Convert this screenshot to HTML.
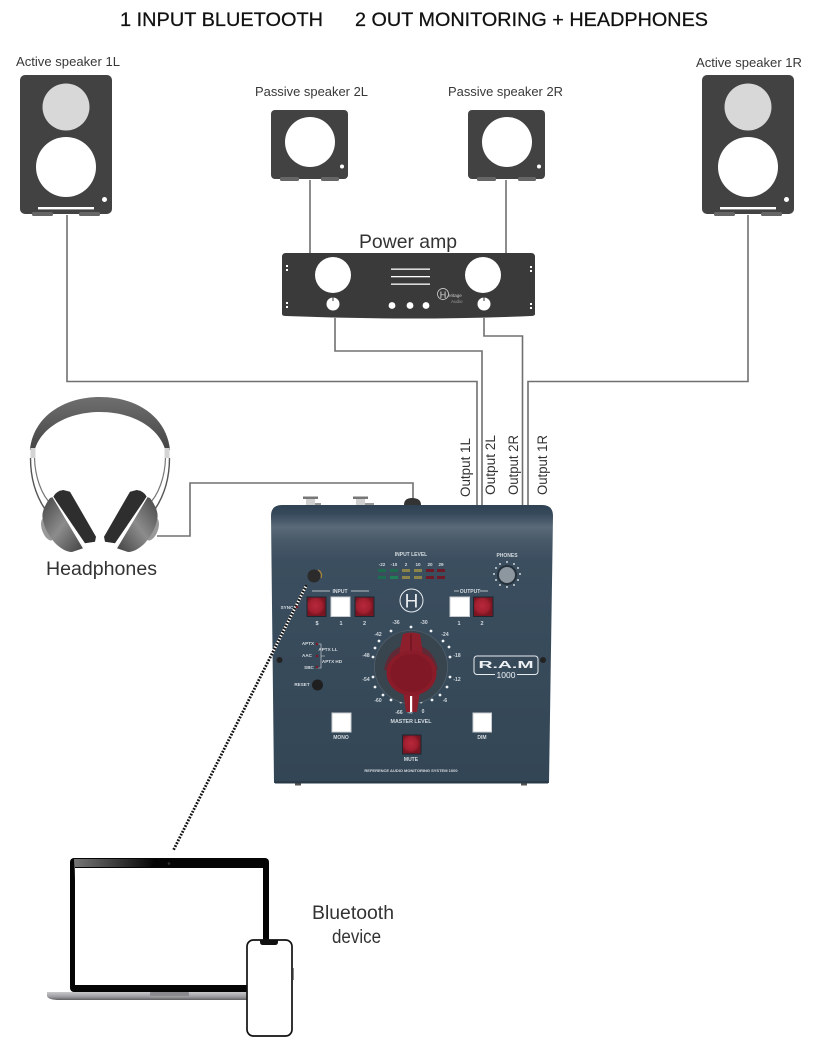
<!DOCTYPE html>
<html><head><meta charset="utf-8"><style>
html,body{margin:0;padding:0;background:#fff;width:833px;height:1055px;overflow:hidden}
svg{display:block}
text{font-family:"Liberation Sans",Arial,sans-serif}
.lab{fill:#383838;font-size:13px}
.t{fill:#d5dbe0;font-size:4.6px;font-weight:bold;text-anchor:middle}
</style></head><body>
<svg width="833" height="1055" viewBox="0 0 833 1055" xmlns="http://www.w3.org/2000/svg">
<defs>
<linearGradient id="body" x1="0" y1="0" x2="0" y2="1">
<stop offset="0" stop-color="#2f4254"/><stop offset=".03" stop-color="#36495a"/><stop offset=".08" stop-color="#5a6a78"/><stop offset=".125" stop-color="#495a69"/><stop offset=".2" stop-color="#3b4e5f"/><stop offset="1" stop-color="#334655"/>
</linearGradient>
<radialGradient id="red" cx=".45" cy=".45"><stop offset="0" stop-color="#b8283c"/><stop offset=".7" stop-color="#a21f30"/><stop offset="1" stop-color="#7a1522"/></radialGradient>
<linearGradient id="band" x1="0" y1="0" x2="0" y2="1"><stop offset="0" stop-color="#6f6f6f"/><stop offset="1" stop-color="#454545"/></linearGradient>
<linearGradient id="cup" x1="0" y1="0" x2="1" y2="1"><stop offset="0" stop-color="#444"/><stop offset=".5" stop-color="#8c8c8c"/><stop offset="1" stop-color="#3f3f3f"/></linearGradient>
<linearGradient id="base" x1="0" y1="0" x2="0" y2="1"><stop offset="0" stop-color="#c9c9cc"/><stop offset=".6" stop-color="#9c9ca0"/><stop offset="1" stop-color="#5f5f62"/></linearGradient>
<linearGradient id="glare" x1="0" y1="0" x2="1" y2="0"><stop offset="0" stop-color="#777"/><stop offset="1" stop-color="#000"/></linearGradient>
<g id="hp">
<path d="M30.500 458C30.500 478 36 497 47 512" fill="none" stroke="#555" stroke-width="1.400"/>
<path d="M34.500 458C35 476 41 495 52 505" fill="none" stroke="#777" stroke-width="1.200"/>
<ellipse cx="48" cy="529" rx="6" ry="12" fill="#999" transform="rotate(-20 48 529)"/>
<path d="M53 497L50 498C44 506 41 514 43 520C45 530 50 537 55 543C60 548 66 552 72 552L84 548Z" fill="url(#cup)"/>
<path d="M63.300 490L70 491.700L96 536.700L95 541.700L85 543.300L53.300 496.700Q56 491 63.300 490Z" fill="#2e2e2e"/>
<path d="M53 497L84 549" fill="none" stroke="#fff" stroke-width="1.200"/>
</g>
</defs>

<text x="120" y="26" font-size="19" fill="#111" stroke="#111" stroke-width=".25" textLength="203" lengthAdjust="spacingAndGlyphs">1 INPUT BLUETOOTH</text>
<text x="355" y="26" font-size="19" fill="#111" stroke="#111" stroke-width=".25" textLength="353" lengthAdjust="spacingAndGlyphs">2 OUT MONITORING + HEADPHONES</text>

<!-- connectors -->
<g fill="none" stroke="#707070" stroke-width="1.600">
<path d="M67 215V381.500H477V506"/>
<path d="M335 318V351H482V506"/>
<path d="M484 318V336H522.500V506"/>
<path d="M748 215V381.500H528V506"/>
<path d="M310 180V255M506 180V255"/>
<path d="M157 536H190V483H413V500"/>
</g>

<!-- active speakers -->
<g fill="#424242">
<rect x="20" y="75" width="92" height="139" rx="5"/>
<rect x="32" y="212" width="21" height="4" rx="1.500" fill="#666"/><rect x="79" y="212" width="21" height="4" rx="1.500" fill="#666"/>
<circle cx="66" cy="107" r="23.500" fill="#d8d8d8"/><circle cx="66" cy="167" r="30" fill="#fff"/>
<circle cx="104.500" cy="199.500" r="2.500" fill="#fff"/><rect x="38" y="207" width="56" height="2.400" fill="#fff"/>
</g>
<g transform="translate(682 0)" fill="#424242">
<rect x="20" y="75" width="92" height="139" rx="5"/>
<rect x="32" y="212" width="21" height="4" rx="1.500" fill="#666"/><rect x="79" y="212" width="21" height="4" rx="1.500" fill="#666"/>
<circle cx="66" cy="107" r="23.500" fill="#d8d8d8"/><circle cx="66" cy="167" r="30" fill="#fff"/>
<circle cx="104.500" cy="199.500" r="2.500" fill="#fff"/><rect x="38" y="207" width="56" height="2.400" fill="#fff"/>
</g>
<!-- passive speakers -->
<g fill="#424242">
<rect x="271" y="110" width="77" height="69" rx="4"/>
<rect x="280" y="177" width="19" height="4" rx="1.500" fill="#666"/><rect x="321" y="177" width="18" height="4" rx="1.500" fill="#666"/>
<circle cx="310" cy="142" r="25" fill="#fff"/><circle cx="342" cy="166.500" r="2" fill="#fff"/>
</g>
<g transform="translate(197 0)" fill="#424242">
<rect x="271" y="110" width="77" height="69" rx="4"/>
<rect x="280" y="177" width="19" height="4" rx="1.500" fill="#666"/><rect x="321" y="177" width="18" height="4" rx="1.500" fill="#666"/>
<circle cx="310" cy="142" r="25" fill="#fff"/><circle cx="342" cy="166.500" r="2" fill="#fff"/>
</g>
<text class="lab" x="16" y="66" textLength="104" lengthAdjust="spacingAndGlyphs">Active speaker 1L</text>
<text class="lab" x="696" y="67" textLength="106" lengthAdjust="spacingAndGlyphs">Active speaker 1R</text>
<text class="lab" x="255" y="96" textLength="113" lengthAdjust="spacingAndGlyphs">Passive speaker 2L</text>
<text class="lab" x="448" y="96" textLength="115" lengthAdjust="spacingAndGlyphs">Passive speaker 2R</text>

<!-- amp -->
<text x="359" y="248" font-size="19.400" fill="#333" textLength="98" lengthAdjust="spacingAndGlyphs">Power amp</text>
<path d="M286 253H531Q535 253 535 257V314Q535 316 531 316Q410 321 286 316Q282 316 282 314V257Q282 253 286 253Z" fill="#3a3a3a"/>
<g fill="#fff">
<circle cx="333" cy="275" r="18"/><circle cx="483" cy="275" r="18"/>
<circle cx="333" cy="304" r="6.500"/><circle cx="484" cy="304" r="6.500"/>
<rect x="391" y="268.500" width="39" height="1.300"/><rect x="391" y="276" width="39" height="1.300"/><rect x="391" y="283.500" width="39" height="1.300"/>
<circle cx="392" cy="305.500" r="3.400"/><circle cx="410" cy="305.500" r="3.400"/><circle cx="426" cy="305.500" r="3.400"/>
<rect x="286" y="265" width="2" height="2"/><rect x="286" y="269" width="2" height="2"/><rect x="286" y="302" width="2" height="2"/><rect x="286" y="306" width="2" height="2"/>
<rect x="530" y="266" width="2" height="2"/><rect x="530" y="270" width="2" height="2"/><rect x="530" y="303" width="2" height="2"/><rect x="530" y="307" width="2" height="2"/>
</g>
<path d="M333 297.500V301M484 297.500V301" stroke="#3a3a3a" stroke-width="1"/>
<circle cx="443" cy="294" r="5.500" fill="none" stroke="#ddd" stroke-width=".7"/>
<text x="443" y="298" font-size="9" fill="#ddd" text-anchor="middle">H</text>
<text x="448" y="297" font-size="4.500" fill="#ccc">eritage</text><text x="451" y="303" font-size="4.500" fill="#999">Audio</text>

<!-- output labels -->
<g font-size="13.500" fill="#333">
<text transform="translate(470 497) rotate(-90)" textLength="59" lengthAdjust="spacingAndGlyphs">Output 1L</text>
<text transform="translate(495 495) rotate(-90)" textLength="60" lengthAdjust="spacingAndGlyphs">Output 2L</text>
<text transform="translate(518 495) rotate(-90)" textLength="60" lengthAdjust="spacingAndGlyphs">Output 2R</text>
<text transform="translate(547 495) rotate(-90)" textLength="60" lengthAdjust="spacingAndGlyphs">Output 1R</text>
</g>

<!-- headphones -->
<path d="M30 450C33 418 62 397 100 397C138 397 167 418 170 450L165 449C158 427 132 412 100 412C68 412 42 427 35 449Z" fill="url(#band)"/>
<rect x="30.500" y="448" width="5" height="10" fill="#d4d4d4"/><rect x="164.500" y="448" width="5" height="10" fill="#d4d4d4"/>
<use href="#hp"/>
<use href="#hp" transform="translate(200 0) scale(-1 1)"/>
<text x="46" y="575" font-size="19" fill="#333" textLength="111" lengthAdjust="spacingAndGlyphs">Headphones</text>

<!-- top jacks -->
<rect x="306" y="498" width="9" height="8" fill="#d0d0d0"/><rect x="303" y="496.500" width="15" height="2.500" fill="#777"/><rect x="315" y="503" width="6" height="2" fill="#999"/>
<rect x="356" y="498" width="9" height="8" fill="#d0d0d0"/><rect x="353" y="496.500" width="15" height="2.500" fill="#777"/><rect x="365" y="503" width="9" height="2" fill="#999"/>
<path d="M404 505Q404 498 412 498Q421 498 421 505Z" fill="#333"/>

<!-- device -->
<path d="M271 516Q271 505 282 505H542Q553 505 553 516L549 783H274Z" fill="url(#body)"/>
<rect x="275" y="781" width="273" height="2.500" fill="#2a3a48"/>
<rect x="295" y="783.500" width="6" height="2" fill="#555"/><rect x="521" y="783.500" width="6" height="2" fill="#555"/>

<!-- input level -->
<text class="t" x="411" y="556" style="font-size:5px">INPUT LEVEL</text>
<text class="t" x="382" y="566">-22</text><text class="t" x="394" y="566">-10</text><text class="t" x="406" y="566">2</text><text class="t" x="418" y="566">10</text><text class="t" x="430" y="566">20</text><text class="t" x="441" y="566">29</text>
<g>
<rect x="378" y="569" width="8" height="3" fill="#1f6b50"/><rect x="390" y="569" width="8" height="3" fill="#1f6b50"/><rect x="402" y="569" width="8" height="3" fill="#8c8448"/><rect x="414" y="569" width="8" height="3" fill="#8c8448"/><rect x="426" y="569" width="8" height="3" fill="#6e1a28"/><rect x="437" y="569" width="8" height="3" fill="#6e1a28"/>
<rect x="378" y="576" width="8" height="3" fill="#1f6b50"/><rect x="390" y="576" width="8" height="3" fill="#1f8058"/><rect x="402" y="576" width="8" height="3" fill="#8c8448"/><rect x="414" y="576" width="8" height="3" fill="#8c8448"/><rect x="426" y="576" width="8" height="3" fill="#6e1a28"/><rect x="437" y="576" width="8" height="3" fill="#6e1a28"/>
</g>

<!-- phones -->
<text class="t" x="507" y="557" style="font-size:5px">PHONES</text>
<g fill="#fff">
<circle cx="507" cy="562" r=".9"/><circle cx="500" cy="564" r=".9"/><circle cx="514" cy="564" r=".9"/><circle cx="496" cy="568" r=".9"/><circle cx="518" cy="568" r=".9"/><circle cx="494" cy="574" r=".9"/><circle cx="520" cy="574" r=".9"/><circle cx="496" cy="580" r=".9"/><circle cx="518" cy="580" r=".9"/><circle cx="500" cy="585" r=".9"/><circle cx="514" cy="585" r=".9"/><circle cx="507" cy="587" r=".9"/>
</g>
<circle cx="507" cy="575" r="10" fill="#25313b"/><circle cx="507" cy="575" r="8" fill="#8d97a0"/>

<!-- jack + cable -->
<path d="M318 570A6 6 0 0 1 321 578" fill="none" stroke="#a8843a" stroke-width="1.200"/>
<circle cx="314" cy="576" r="6.500" fill="#2b2b2b"/>
<path d="M306.500 585L173 851" fill="none" stroke="#fff" stroke-width="2.800"/>
<path d="M306.500 585L173 851" fill="none" stroke="#111" stroke-width="2.800" stroke-dasharray="1.800 1.400"/>

<!-- input / output -->
<text class="t" x="340" y="593" style="font-size:5px">INPUT</text>
<path d="M312 591H330M351 591H369M454 591H459M480 591H488" stroke="#dfe4e8" stroke-width=".7"/>
<text class="t" x="470" y="593" style="font-size:5px">OUTPUT</text>
<g stroke="#1d2730" stroke-width="1">
<rect x="307" y="597" width="19" height="19.500" fill="url(#red)"/><rect x="331" y="597" width="19" height="19.500" fill="#fff" stroke="#c8ccd0"/><rect x="355" y="597" width="19" height="19.500" fill="url(#red)"/>
<rect x="450" y="597" width="19.500" height="19.500" fill="#fff" stroke="#c8ccd0"/><rect x="473.500" y="597" width="19.500" height="19.500" fill="url(#red)"/>
<rect x="332" y="713" width="19" height="19" fill="#fff" stroke="#c8ccd0"/><rect x="473" y="713" width="18.500" height="19" fill="#fff" stroke="#c8ccd0"/>
<rect x="402.500" y="735" width="18.500" height="19" fill="url(#red)"/>
</g>
<text class="t" x="317" y="625" style="font-size:5.500px">$</text><text class="t" x="341" y="625" style="font-size:5.500px">1</text><text class="t" x="364.500" y="625" style="font-size:5.500px">2</text>
<text class="t" x="459" y="625" style="font-size:5.500px">1</text><text class="t" x="482" y="625" style="font-size:5.500px">2</text>
<text class="t" x="341" y="739" style="font-size:5px">MONO</text><text class="t" x="482" y="739" style="font-size:5px">DIM</text><text class="t" x="411" y="761" style="font-size:5px">MUTE</text>
<text class="t" x="411" y="723" style="font-size:5.300px">MASTER LEVEL</text>
<text class="t" x="411" y="772" style="font-size:4px">REFERENCE AUDIO MONITORING SYSTEM 1000</text>
<text class="t" x="287" y="609">SYNC</text><circle cx="297" cy="607" r="1.300" fill="#7a1a28"/>
<text class="t" x="308" y="645">APTX</text><text class="t" x="307" y="657">AAC</text><text class="t" x="309" y="669">SBC</text>
<text class="t" x="328" y="651">APTX LL</text><text class="t" x="332" y="663">APTX HD</text>
<text class="t" x="302" y="686">RESET</text>
<path d="M316 644H321V668H316M321 656H325" fill="none" stroke="#dfe4e8" stroke-width=".6"/>
<circle cx="317" cy="644" r="1.300" fill="#7a1a28"/><circle cx="317" cy="656" r="1.300" fill="#7a1a28"/><circle cx="317" cy="667" r="1.300" fill="#7a1a28"/>
<circle cx="317.500" cy="685" r="5.500" fill="#1f1f1f"/>
<circle cx="279.500" cy="660" r="3" fill="#222"/><circle cx="543" cy="660" r="3" fill="#222"/>

<!-- H logo -->
<circle cx="411.500" cy="600.500" r="11.500" fill="none" stroke="#e8ecef" stroke-width="1"/>
<text x="411.500" y="607.500" font-size="19" fill="#e8ecef" text-anchor="middle">H</text>

<!-- RAM badge -->
<rect x="474" y="656" width="64" height="18.500" rx="3" fill="none" stroke="#e8ecef" stroke-width="1"/>
<text x="506" y="668" font-size="10.500" font-weight="bold" fill="#eef1f3" text-anchor="middle" textLength="55" lengthAdjust="spacingAndGlyphs">R.A.M</text>
<rect x="495" y="671" width="22" height="8" fill="#3a4d5e"/>
<text x="506" y="678" font-size="8.500" fill="#eef1f3" text-anchor="middle">1000</text>

<!-- master knob -->
<g fill="#f0f3f5">
<circle cx="411" cy="627" r="1.400"/><circle cx="431" cy="631" r="1.400"/><circle cx="391" cy="631" r="1.400"/><circle cx="379" cy="641" r="1.400"/><circle cx="443" cy="641" r="1.400"/><circle cx="375" cy="648" r="1.400"/><circle cx="449" cy="647" r="1.400"/><circle cx="373" cy="657" r="1.400"/><circle cx="450" cy="657" r="1.400"/>
<circle cx="373" cy="677" r="1.400"/><circle cx="450" cy="677" r="1.400"/><circle cx="375" cy="687" r="1.400"/><circle cx="447" cy="687" r="1.400"/><circle cx="383" cy="695" r="1.400"/><circle cx="440" cy="695" r="1.400"/><circle cx="391" cy="700" r="1.400"/><circle cx="432" cy="700" r="1.400"/><circle cx="401" cy="702" r="1.400"/><circle cx="421" cy="702" r="1.400"/><circle cx="378" cy="668" r="1.400"/><circle cx="446" cy="668" r="1.400"/>
</g>
<g>
<text class="t" x="396" y="624" style="font-size:5px">-36</text><text class="t" x="424" y="624" style="font-size:5px">-30</text><text class="t" x="378" y="636" style="font-size:5px">-42</text><text class="t" x="445" y="636" style="font-size:5px">-24</text><text class="t" x="366" y="657" style="font-size:5px">-48</text><text class="t" x="457" y="657" style="font-size:5px">-18</text><text class="t" x="366" y="681" style="font-size:5px">-54</text><text class="t" x="457" y="681" style="font-size:5px">-12</text><text class="t" x="378" y="702" style="font-size:5px">-60</text><text class="t" x="445" y="702" style="font-size:5px">-6</text><text class="t" x="399" y="714" style="font-size:5px">-66</text><text class="t" x="410" y="714" style="font-size:5px">-∞</text><text class="t" x="423" y="713" style="font-size:5px">0</text>
</g>
<circle cx="411" cy="667" r="36.500" fill="#38454f" stroke="#5a6873" stroke-width=".6"/>
<path d="M384 670Q388 646 411 644Q434 646 438 670Z" fill="#5f2a35"/>
<path d="M403 634Q411 631 420 634Q422 645 423 660L399 660Q400 645 403 634Z" fill="#8d1e2c"/>
<path d="M411 634V656" stroke="#5f111b" stroke-width="1"/>
<path d="M403 690L420 690L417 712H406Z" fill="#8d1e2c"/>
<ellipse cx="411.500" cy="673" rx="25" ry="22.500" fill="#8a1b29"/><ellipse cx="411.500" cy="673" rx="21" ry="19" fill="#801825"/>
<rect x="410" y="696" width="2.200" height="16" fill="#fff"/>

<!-- laptop -->
<rect x="70" y="858" width="199" height="134" rx="4" fill="#050505"/>
<path d="M74 859H158L150 867H75V880Z" fill="url(#glare)"/>
<rect x="75" y="868" width="188" height="117" fill="#fff"/>
<circle cx="169" cy="863.500" r="1.300" fill="#333"/>
<path d="M47 992H247V1000H60Q48 1000 47 996Z" fill="url(#base)"/>
<rect x="150" y="992" width="39" height="4" rx="1" fill="#8a8a8e"/>

<!-- phone -->
<rect x="247" y="940" width="45" height="96" rx="6.500" fill="#fff" stroke="#111" stroke-width="1.700"/>
<path d="M260 940H278V942Q278 945 275 945H263Q260 945 260 942Z" fill="#111"/>
<rect x="292.500" y="968" width="1.200" height="12" fill="#555"/>

<text x="312" y="919" font-size="19" fill="#333" textLength="82" lengthAdjust="spacingAndGlyphs">Bluetooth</text>
<text x="332" y="943" font-size="19" fill="#333" textLength="49" lengthAdjust="spacingAndGlyphs">device</text>
</svg>
</body></html>
